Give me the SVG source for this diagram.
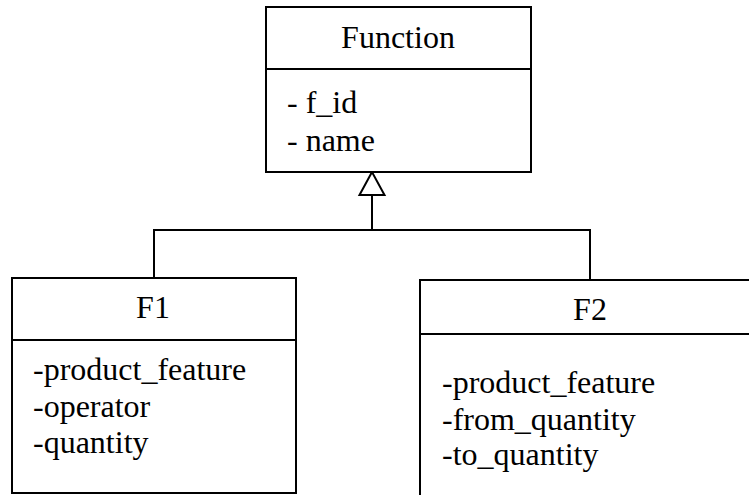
<svg xmlns="http://www.w3.org/2000/svg" width="749" height="495" viewBox="0 0 749 495">
  <style>
    .box { fill: #fff; stroke: #000; stroke-width: 2; }
    .sep { stroke: #000; stroke-width: 2; }
    .title { font-family: "Liberation Serif", "Times New Roman", serif; font-size: 32px; fill: #000; text-anchor: middle; }
    .attr { font-family: "Liberation Serif", "Times New Roman", serif; font-size: 32px; fill: #000; }
    .conn { fill: none; stroke: #000; stroke-width: 2; }
    .head { fill: #fff; stroke: #000; stroke-width: 2; stroke-linejoin: miter; }
  </style>

  <!-- generalization connectors -->
  <g id="connectors">
    <polyline class="conn" points="154,278 154,230 590,230 590,280"/>
    <line class="conn" x1="372" y1="230" x2="372" y2="195"/>
    <polygon class="head" points="372,172 359.5,195 384.5,195"/>
  </g>

  <g id="Function">
    <rect class="box" x="266" y="7" width="265" height="165"/>
    <line class="sep" x1="266" y1="69" x2="531" y2="69"/>
    <text class="title" x="398" y="48">Function</text>
    <text class="attr" x="287" y="113">- f_id</text>
    <text class="attr" x="287" y="151">- name</text>
  </g>

  <g id="F1">
    <rect class="box" x="12" y="278" width="284" height="215"/>
    <line class="sep" x1="12" y1="340" x2="296" y2="340"/>
    <text class="title" x="153" y="318">F1</text>
    <text class="attr" x="33" y="380">-product_feature</text>
    <text class="attr" x="33" y="417">-operator</text>
    <text class="attr" x="33" y="453">-quantity</text>
  </g>

  <g id="F2">
    <rect class="box" x="420" y="280" width="340" height="230"/>
    <line class="sep" x1="420" y1="334" x2="760" y2="334"/>
    <text class="title" x="590" y="320">F2</text>
    <text class="attr" x="442" y="393">-product_feature</text>
    <text class="attr" x="442" y="430">-from_quantity</text>
    <text class="attr" x="442" y="465">-to_quantity</text>
  </g>
</svg>
